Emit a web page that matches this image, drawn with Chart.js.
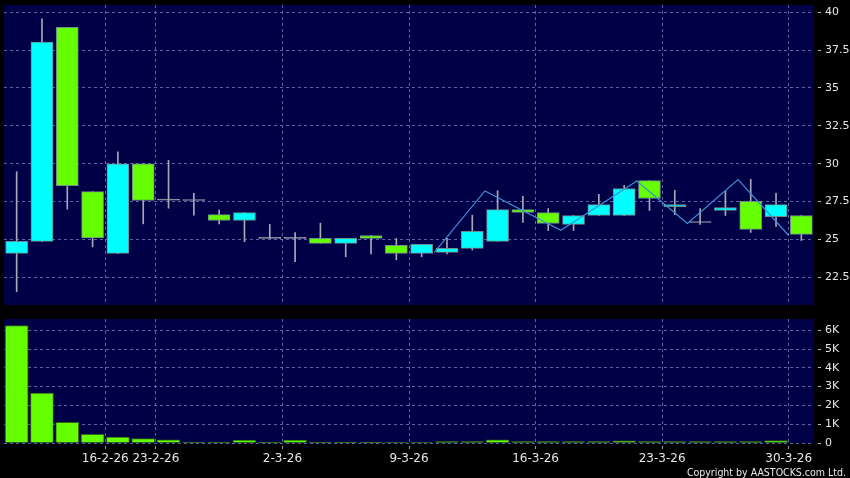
<!DOCTYPE html>
<html>
<head>
<meta charset="utf-8">
<script src="https://cdn.jsdelivr.net/npm/chart.js@4.4.1/dist/chart.umd.min.js"></script>
<style>
  html, body { margin: 0; padding: 0; background: #000; }
  #wrap { position: relative; width: 850px; height: 478px; background: #000; overflow: hidden; }
  #priceBox { position: absolute; left: 0; top: 0; width: 850px; height: 310px; }
  #volBox { position: absolute; left: 0; top: 310px; width: 850px; height: 168px; }
  #copy { position: absolute; right: 4px; top: 466px; line-height: 12px; font-size: 10.5px;
          font-family: "DejaVu Sans Condensed", "DejaVu Sans", sans-serif; color: #e8e8e8; white-space: nowrap; }
</style>
</head>
<body>
<div id="wrap">
  <div id="priceBox"><canvas id="price" width="850" height="310"></canvas></div>
  <div id="volBox"><canvas id="vol" width="850" height="168"></canvas></div>
  <div id="copy">Copyright by AASTOCKS.com Ltd.</div>
</div>
<script>
// trading days shown
const dates = [
  "10-2-26", "11-2-26", "12-2-26", "13-2-26", "16-2-26", "20-2-26",
  "23-2-26", "24-2-26", "25-2-26", "26-2-26", "27-2-26",
  "2-3-26", "3-3-26", "4-3-26", "5-3-26", "6-3-26",
  "9-3-26", "10-3-26", "11-3-26", "12-3-26", "13-3-26",
  "16-3-26", "17-3-26", "18-3-26", "19-3-26", "20-3-26",
  "23-3-26", "24-3-26", "25-3-26", "26-3-26", "27-3-26",
  "30-3-26"
];
const openP  = [24.08, 24.87, 39.01, 28.16, 24.08, 30.00, 27.60, 27.57, 26.64, 26.25, 25.07,
                25.07, 25.07, 24.74, 25.26, 24.61, 24.08, 24.14, 24.41, 24.87, 26.97,
                26.78, 25.99, 26.58, 26.58, 28.88, 27.17, 26.12, 26.91, 27.52, 26.51, 26.58];
const highP  = [29.47, 39.56, 39.01, 28.16, 30.79, 30.00, 30.22, 28.05, 26.93, 26.78, 25.99,
                25.46, 26.07, 25.07, 25.26, 25.07, 24.67, 25.07, 26.60, 28.22, 27.85,
                27.04, 26.58, 27.98, 28.57, 28.88, 28.24, 27.04, 28.18, 28.97, 28.05, 26.58];
const lowP   = [21.55, 24.87, 27.00, 24.51, 24.08, 26.03, 27.06, 26.60, 26.03, 24.85, 25.07,
                23.53, 24.74, 23.86, 24.05, 23.65, 23.86, 24.05, 24.30, 24.87, 26.12,
                25.59, 25.59, 26.58, 26.58, 26.91, 26.64, 25.99, 26.58, 25.46, 25.86, 24.93];
const closeP = [24.87, 38.03, 28.55, 25.10, 30.00, 27.57, 27.60, 27.57, 26.25, 26.78, 25.07,
                25.07, 24.74, 25.07, 25.07, 24.08, 24.67, 24.41, 25.53, 26.97, 26.78,
                26.05, 26.58, 27.30, 28.36, 27.70, 27.30, 26.12, 27.11, 25.66, 27.30, 25.33];
const volume = [6250, 2660, 1100, 460, 320, 230, 170, 50, 50, 150, 50,
                150, 50, 50, 20, 30, 30, 80, 80, 170, 80,
                80, 80, 80, 110, 80, 80, 80, 80, 80, 130, null];

// zigzag line pivots (position in candle index units, price)
const zigPos   = [16.5, 18.5, 21.5, 24.5, 26.5, 28.5, 30.5];
const zigPrice = [24.14, 28.20, 25.61, 28.86, 26.05, 28.95, 25.26];

const dateTicks  = ["16-2-26", "23-2-26", "2-3-26", "9-3-26", "16-3-26", "23-3-26", "30-3-26"];
const priceTicks = [22.5, 25, 27.5, 30, 32.5, 35, 37.5, 40];
const volTicks   = [0, 1000, 2000, 3000, 4000, 5000, 6000];

// colours
const UP = "#00ffff", DOWN = "#66ff00", FLAT = "#a8a8b0";
const GRID = "rgba(120,120,190,0.8)";
const TXT = "#e6e6e6";

const tickPos = dateTicks.map(d => dates.indexOf(d) - 0.5);
const tickName = {};
tickPos.forEach((p, i) => { tickName[p] = dateTicks[i]; });

const plotBg = {
  id: "plotBg",
  beforeDraw(chart) {
    const { ctx, chartArea: a } = chart;
    ctx.save();
    ctx.fillStyle = "#000046";
    ctx.fillRect(a.left, a.top, a.right - a.left, a.bottom - a.top);
    ctx.restore();
  }
};

function xScale(showLabels, height) {
  return {
    type: "linear",
    offset: false,
    min: -0.5,
    max: dates.length - 0.5,
    afterBuildTicks: s => { s.ticks = tickPos.map(v => ({ value: v })); },
    afterFit: s => { s.height = height; s.paddingLeft = 0; s.paddingRight = 0; },
    border: { display: false, dash: [3, 3] },
    grid: {
      offset: false, color: GRID, lineWidth: 1,
      drawTicks: showLabels, tickLength: 7, tickColor: "#9a9a9a", tickBorderDash: [0, 3, 3, 50]
    },
    ticks: {
      display: showLabels, autoSkip: false, maxRotation: 0, minRotation: 0, padding: 2,
      color: TXT, font: { family: "DejaVu Sans", size: 12 },
      callback: v => tickName[v] || ""
    }
  };
}

function yScale(min, max, ticks, fmt) {
  return {
    position: "right",
    min: min,
    max: max,
    afterBuildTicks: s => { s.ticks = ticks.map(v => ({ value: v })); },
    afterFit: s => { s.width = 36; s.paddingTop = 0; s.paddingBottom = 0; },
    border: { display: false, dash: [3, 3] },
    grid: {
      color: GRID, lineWidth: 1,
      tickLength: 7, tickColor: "#bbbbbb", tickBorderDash: [0, 4, 3, 50]
    },
    ticks: { color: TXT, padding: 4, font: { family: "DejaVu Sans", size: 11 }, callback: fmt }
  };
}

const bodyColor = dates.map((d, i) =>
  closeP[i] > openP[i] ? UP : closeP[i] < openP[i] ? DOWN : FLAT);
const bodyBorder = bodyColor.map(c => c === FLAT ? FLAT : "#6f8c8c");

new Chart(document.getElementById("price"), {
  data: {
    datasets: [
      {
        type: "line",
        data: zigPos.map((p, i) => ({ x: p, y: zigPrice[i] })),
        borderColor: "#3d8fd6",
        borderWidth: 1.2,
        pointRadius: 0,
        order: 0
      },
      {
        type: "bar",
        data: dates.map((d, i) => ({ x: i, y: [openP[i], closeP[i]] })),
        backgroundColor: bodyColor,
        borderColor: bodyBorder,
        borderWidth: 1,
        borderSkipped: false,
        barThickness: 22,
        minBarLength: 1,
        grouped: false,
        order: 1
      },
      {
        type: "bar",
        data: dates.map((d, i) => ({ x: i, y: [lowP[i], highP[i]] })),
        backgroundColor: "#a8a8b4",
        borderWidth: 0,
        barThickness: 1,
        grouped: false,
        order: 2
      }
    ]
  },
  options: {
    responsive: false,
    animation: false,
    layout: { padding: { left: 4, top: 5, right: 0, bottom: 5 } },
    plugins: { legend: { display: false }, tooltip: { enabled: false } },
    scales: {
      x: xScale(false, 0),
      y: yScale(20.67, 40.48, priceTicks, v => String(v))
    }
  },
  plugins: [plotBg]
});

new Chart(document.getElementById("vol"), {
  type: "bar",
  data: {
    datasets: [{
      data: volume.map((v, i) => ({ x: i, y: v })),
      backgroundColor: DOWN,
      borderColor: "#2e6414",
      borderWidth: 1,
      barThickness: 23
    }]
  },
  options: {
    responsive: false,
    animation: false,
    layout: { padding: { left: 4, top: 9, right: 0, bottom: 0 } },
    plugins: { legend: { display: false }, tooltip: { enabled: false } },
    scales: {
      x: xScale(true, 35),
      y: yScale(0, 6600, volTicks, v => v === 0 ? "0" : (v / 1000) + "K")
    }
  },
  plugins: [plotBg]
});
</script>
</body>
</html>
